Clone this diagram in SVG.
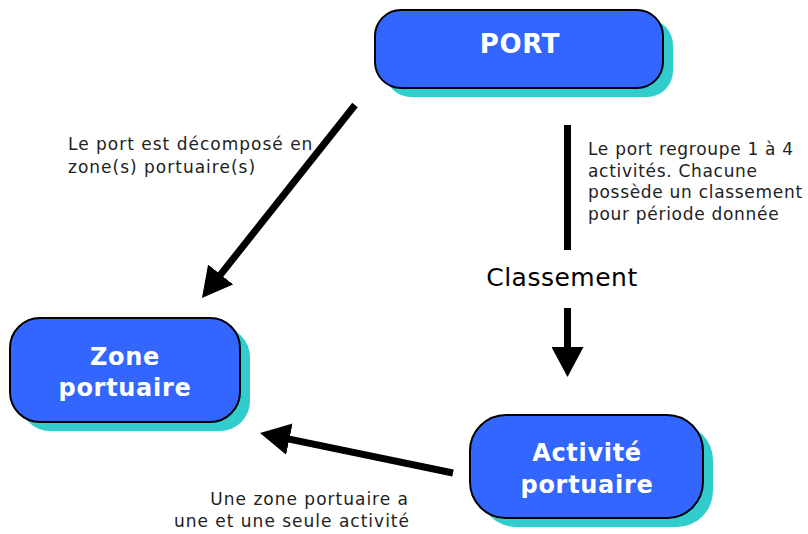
<svg xmlns="http://www.w3.org/2000/svg" width="808" height="534" viewBox="0 0 808 534">
<style>
.shadow{fill:#33CCCC;stroke:none}
.box{fill:#3366FF;stroke:#000;stroke-width:2}
.nt{font-family:"DejaVu Sans",Verdana,sans-serif;font-weight:bold;fill:#fff;text-anchor:middle;font-size:24px;letter-spacing:0.7px}
.lbl{font-family:"DejaVu Sans",Verdana,sans-serif;font-size:17px;fill:#222;letter-spacing:1px}
.conn{stroke:#000;stroke-width:7;fill:none}
</style>
<defs>
<marker id="ah" markerUnits="userSpaceOnUse" markerWidth="30" markerHeight="32" viewBox="0 0 30 32" refX="10" refY="16" orient="auto">
<path d="M0,0 L30,16 L0,32 z" fill="#000"/>
</marker>
</defs>
<rect width="808" height="534" fill="#fff"/>
<g id="connectors">
<line class="conn" x1="355" y1="105" x2="214.4" y2="282.3" marker-end="url(#ah)"/>
<line class="conn" x1="567.5" y1="125" x2="567.5" y2="250" stroke-width="8"/>
<line class="conn" x1="567.5" y1="308" x2="567.5" y2="357" stroke-width="8" marker-end="url(#ah)"/>
<line class="conn" x1="453" y1="473" x2="279.6" y2="437.1" marker-end="url(#ah)"/>
</g>
<g id="port">
<rect class="shadow" x="385" y="19" width="288" height="78" rx="26"/>
<rect class="box" x="375" y="10" width="288" height="78" rx="26"/>
<text class="nt" x="520" y="53" style="font-size:26px">PORT</text>
</g>
<g id="zone">
<rect class="shadow" x="20" y="327" width="230" height="104" rx="30"/>
<rect class="box" x="10" y="318" width="230" height="104" rx="30"/>
<text class="nt" x="125" y="365">Zone</text>
<text class="nt" x="125" y="396">portuaire</text>
</g>
<g id="activite">
<rect class="shadow" x="480" y="424" width="233" height="103" rx="36"/>
<rect class="box" x="470" y="415" width="233" height="103" rx="36"/>
<text class="nt" x="587" y="461">Activité</text>
<text class="nt" x="587" y="493">portuaire</text>
</g>
<g id="labels">
<text class="lbl" x="68" y="150">Le port est décomposé en</text>
<text class="lbl" x="68" y="173">zone(s) portuaire(s)</text>
<text class="lbl" x="588" y="155" style="letter-spacing:0.7px">Le port regroupe 1 à 4</text>
<text class="lbl" x="588" y="177" style="letter-spacing:0.7px">activités. Chacune</text>
<text class="lbl" x="588" y="198" style="letter-spacing:0.7px">possède un classement</text>
<text class="lbl" x="588" y="220" style="letter-spacing:0.7px">pour période donnée</text>
<text x="562" y="286" font-family="DejaVu Sans, Verdana, sans-serif" font-size="25" letter-spacing="0.5" fill="#000" text-anchor="middle">Classement</text>
<text class="lbl" x="409" y="505" text-anchor="end">Une zone portuaire a</text>
<text class="lbl" x="410" y="527" text-anchor="end">une et une seule activité</text>
</g>
</svg>
